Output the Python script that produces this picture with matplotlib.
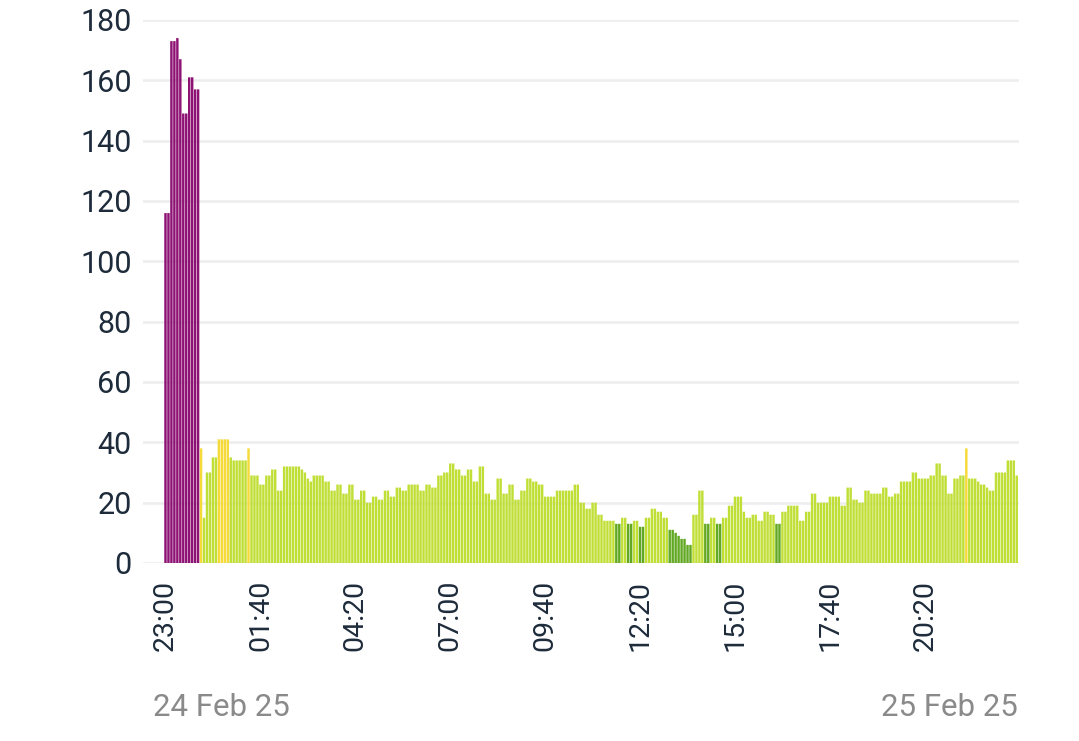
import numpy as np
import matplotlib
matplotlib.use("Agg")
import matplotlib.pyplot as plt

plt.rcParams['font.family'] = ['Roboto', 'DejaVu Sans']

# 5-minute readings from 24 Feb 25 23:00 to 25 Feb 25 22:55 (one row per hour)
values = [
    116, 116, 173, 173, 174, 167, 149, 149, 161, 161, 157, 157,   # 23:00
    38, 15, 30, 30, 35, 35, 41, 41, 41, 41, 35, 34,               # 00:00
    34, 34, 34, 34, 38, 29, 29, 29, 26, 26, 29, 29,               # 01:00
    31, 31, 24, 24, 32, 32, 32, 32, 32, 32, 31, 30,               # 02:00
    28, 27, 29, 29, 29, 29, 27, 27, 24, 24, 26, 26,               # 03:00
    23, 23, 26, 26, 21, 21, 24, 24, 20, 20, 22, 22,               # 04:00
    21, 21, 24, 24, 22, 22, 25, 25, 24, 24, 26, 26,               # 05:00
    26, 26, 24, 24, 26, 26, 25, 25, 29, 29, 30, 30,               # 06:00
    33, 33, 31, 31, 29, 29, 31, 31, 27, 27, 32, 32,               # 07:00
    23, 23, 21, 21, 28, 28, 23, 23, 26, 26, 21, 21,               # 08:00
    24, 24, 28, 28, 27, 27, 26, 26, 22, 22, 22, 22,               # 09:00
    24, 24, 24, 24, 24, 24, 26, 26, 20, 20, 18, 18,               # 10:00
    20, 20, 16, 16, 14, 14, 14, 14, 13, 13, 15, 15,               # 11:00
    13, 13, 14, 14, 12, 12, 15, 15, 18, 18, 17, 17,               # 12:00
    15, 15, 11, 11, 10, 9, 8, 8, 6, 6, 16, 16,                    # 13:00
    24, 24, 13, 13, 15, 15, 13, 13, 15, 15, 19, 19,               # 14:00
    22, 22, 22, 17, 15, 15, 16, 16, 14, 14, 17, 17,               # 15:00
    16, 16, 13, 13, 17, 17, 19, 19, 19, 19, 14, 14,               # 16:00
    17, 17, 23, 23, 20, 20, 20, 20, 22, 22, 22, 22,               # 17:00
    19, 19, 25, 25, 21, 21, 20, 20, 24, 24, 23, 23,               # 18:00
    23, 23, 25, 25, 22, 22, 23, 23, 27, 27, 27, 27,               # 19:00
    30, 30, 28, 28, 28, 28, 29, 29, 33, 33, 29, 29,               # 20:00
    23, 23, 28, 28, 29, 29, 38, 28, 28, 28, 27, 26,               # 21:00
    26, 25, 24, 24, 30, 30, 30, 30, 34, 34, 34, 29,               # 22:00
]

tick_labels = ["23:00", "01:40", "04:20", "07:00", "09:40",
               "12:20", "15:00", "17:40", "20:20"]
y_ticks = [0, 20, 40, 60, 80, 100, 120, 140, 160, 180]
start_date = "24 Feb 25"
end_date = "25 Feb 25"

# colour bands
purple = "#8e1274"
yellow = "#f6da3a"
light_green = "#c0df36"
dark_green = "#62a823"


def band(v):
    if v >= 100:
        return purple
    if v >= 36:
        return yellow
    if v >= 13.5:
        return light_green
    return dark_green


minutes = np.arange(len(values)) * 5
colors = [band(v) for v in values]

W, H = 1079, 741
fig = plt.figure(figsize=(W / 100, H / 100), dpi=100)
ax = fig.add_axes([143 / W, 1 - 563 / H, (1019 - 143) / W, (563 - 20) / H])

ax.bar(minutes + 2.5, values, width=4.1, color=colors, linewidth=0,
       snap=False, zorder=3)

ax.set_ylim(0, 180)
ax.set_xlim(-35.4, 1441.3)
ax.set_yticks(y_ticks)
ax.yaxis.grid(True, color="#ededed", linewidth=1.8, zorder=0)
ax.xaxis.grid(False)

tick_pos = [i * 160 + 2.5 for i in range(len(tick_labels))]
ax.set_xticks(tick_pos)
ax.set_xticklabels(tick_labels, rotation=90)

ax.tick_params(axis="y", length=0, pad=8, labelsize=22, labelcolor="#1d2b3b")
ax.tick_params(axis="x", length=0, pad=12, labelsize=20.5, labelcolor="#1d2b3b")
for s in ax.spines.values():
    s.set_visible(False)

fig.text(153 / W, 1 - 708 / H, start_date, ha="left", va="center",
         fontsize=22.5, color="#8a8a8a")
fig.text(1018 / W, 1 - 708 / H, end_date, ha="right", va="center",
         fontsize=22.5, color="#8a8a8a")

fig.savefig("out.png", dpi=100, facecolor="white")
